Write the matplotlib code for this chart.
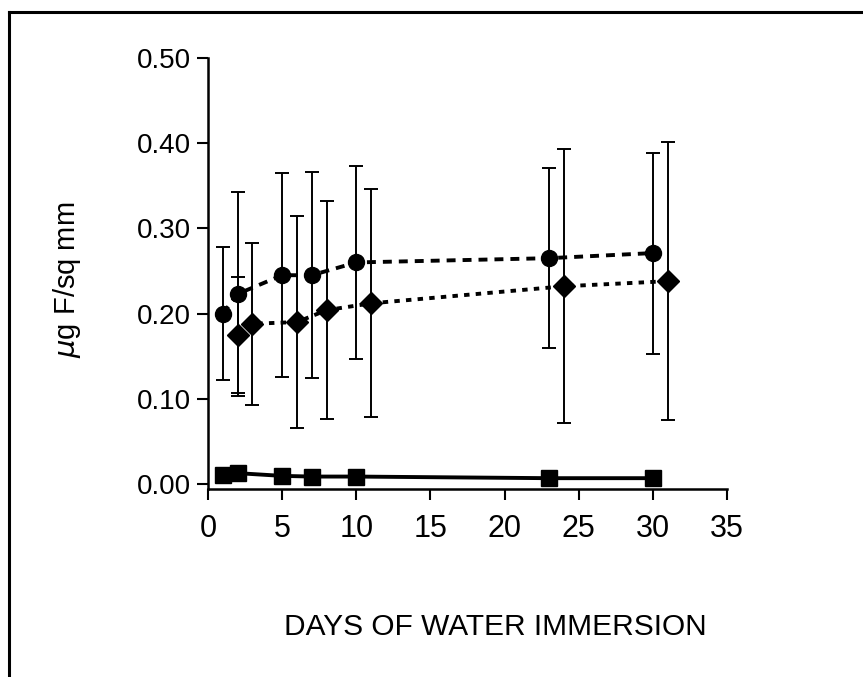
import matplotlib
matplotlib.use("Agg")
import matplotlib.pyplot as plt
from matplotlib.lines import Line2D

plt.rcParams['font.family'] = ['Liberation Sans', 'DejaVu Sans']

# circles, dashed line
days_circle = [1, 2, 5, 7, 10, 23, 30]
mean_circle = [0.200, 0.223, 0.245, 0.245, 0.260, 0.265, 0.271]
sd_circle = [0.078, 0.120, 0.120, 0.121, 0.113, 0.106, 0.118]

# diamonds, dotted line
days_diamond = [2, 3, 6, 8, 11, 24, 31]
mean_diamond = [0.175, 0.188, 0.190, 0.204, 0.212, 0.232, 0.238]
sd_diamond = [0.068, 0.095, 0.124, 0.128, 0.134, 0.161, 0.163]

# squares, solid line
days_square = [1, 2, 5, 7, 10, 23, 30]
mean_square = [0.0106, 0.0126, 0.0094, 0.0086, 0.0086, 0.0067, 0.0067]

x_ticks = [0, 5, 10, 15, 20, 25, 30, 35]
y_ticks = [0.0, 0.1, 0.2, 0.3, 0.4, 0.5]

fig = plt.figure(figsize=(8.63, 6.77), dpi=100)
ax = fig.add_axes([0.241, 0.2777, 0.6015, 0.6366])

err_kw = dict(ecolor='black', elinewidth=1.4, capsize=5, capthick=1.4)
ax.errorbar(days_circle, mean_circle, yerr=sd_circle, fmt='none', **err_kw)
ax.errorbar(days_diamond, mean_diamond, yerr=sd_diamond, fmt='none', **err_kw)

ax.plot(days_circle, mean_circle, color='black', linestyle=(0, (2.3, 1.8)),
        linewidth=2.8, marker='o', markersize=11.5)
ax.plot(days_diamond, mean_diamond, color='black', linestyle=(0, (1.4, 1.6)),
        linewidth=2.8, marker='D', markersize=11.5)
ax.plot(days_square, mean_square, color='black', linestyle='-',
        linewidth=2.8, marker='s', markersize=11)

ax.set_xlim(0, 35)
ax.set_ylim(-0.006, 0.5)
ax.set_xticks(x_ticks)
ax.set_xticklabels([str(t) for t in x_ticks])
ax.set_yticks(y_ticks)
ax.set_yticklabels(['%.2f' % t for t in y_ticks])

for side in ['top', 'right']:
    ax.spines[side].set_visible(False)
for side in ['left', 'bottom']:
    ax.spines[side].set_linewidth(1.8)
ax.tick_params(axis='both', direction='out', length=8, width=1.5)
ax.tick_params(axis='x', labelsize=22, pad=10)
ax.tick_params(axis='y', labelsize=20, pad=4)

ax.set_xlabel('DAYS OF WATER IMMERSION', fontsize=21.5, va='center')
ax.xaxis.set_label_coords(0.553, -0.32)
ax.set_ylabel(r'$\mu$g F/sq mm', fontsize=21, va='center')
ax.yaxis.set_label_coords(-0.272, 0.485)

# outer frame (top and left edges only)
fig.add_artist(Line2D([0.010, 1.0], [0.982, 0.982], color='black',
                      linewidth=2.2, transform=fig.transFigure))
fig.add_artist(Line2D([0.011, 0.011], [0.0, 0.982], color='black',
                      linewidth=2.2, transform=fig.transFigure))

fig.savefig('out.png', dpi=100)
